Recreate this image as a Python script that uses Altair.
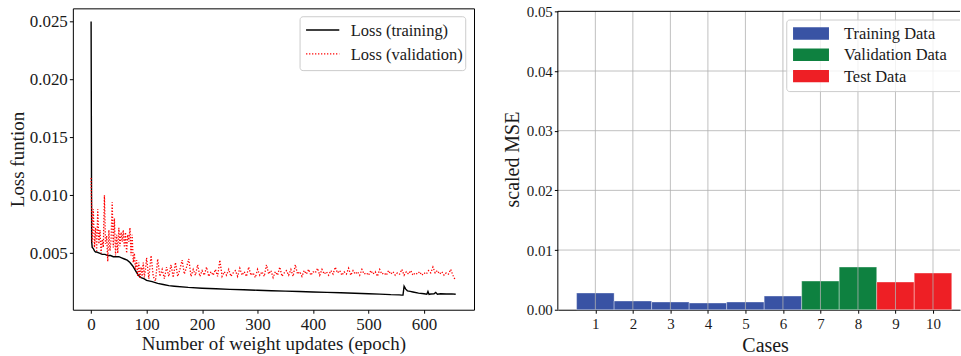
import altair as alt
import pandas as pd

FONT = "Liberation Serif"

# ---------------- left panel data ----------------
train_epochs = [0, 1, 2, 4, 6, 8, 10, 15, 20, 25, 30, 35, 40, 45, 50, 55, 60, 65, 70, 75,
                80, 85, 90, 95, 100, 110, 120, 130, 140, 150, 175, 200, 225, 250, 275, 300,
                325, 350, 375, 400, 425, 450, 475, 500, 520, 540, 555, 560, 562, 564, 567,
                570, 575, 580, 590, 600, 605, 607, 609, 612, 618, 621, 624, 630, 640, 650, 657]
train_loss = [0.0250, 0.0060, 0.0055, 0.0054, 0.0052, 0.0051, 0.0051, 0.0050, 0.0049, 0.0049,
              0.0048, 0.0048, 0.0047, 0.0047, 0.0047, 0.0046, 0.0045, 0.0044, 0.0042, 0.0039,
              0.0035, 0.0031, 0.0029, 0.0028, 0.00265, 0.00255, 0.0024, 0.0023, 0.0022, 0.00215,
              0.00205, 0.00198, 0.00193, 0.00188, 0.00184, 0.0018, 0.00176, 0.00173, 0.00169,
              0.00165, 0.00162, 0.00158, 0.00154, 0.0015, 0.00147, 0.00142, 0.0014, 0.00138,
              0.00139, 0.00215, 0.0019, 0.00175, 0.0017, 0.00165, 0.00155, 0.0015, 0.00146,
              0.0017, 0.00144, 0.00148, 0.0015, 0.00162, 0.00146, 0.0015, 0.00148, 0.00149, 0.00146]

val_epochs = list(range(0, 100, 2)) + list(range(100, 657, 4))
val_loss = [
    0.0115, 0.0060, 0.0088, 0.0055, 0.0072, 0.0052, 0.0088, 0.0058, 0.0070, 0.0050,
    0.0062, 0.0055, 0.0100, 0.0058, 0.0065, 0.0043, 0.0070, 0.0052, 0.0062, 0.0094,
    0.0055, 0.0080, 0.0048, 0.0066, 0.0050, 0.0072, 0.0056, 0.0068, 0.0060, 0.0070,
    0.0055, 0.0068, 0.0050, 0.0066, 0.0060, 0.0072, 0.0048, 0.0066, 0.0042, 0.0050,
    0.0036, 0.0044, 0.0030, 0.0042, 0.0028, 0.0038, 0.0030, 0.0042, 0.0029, 0.0036,
    # 100 .. 656 step 4
    0.0046, 0.0028, 0.0048, 0.0030, 0.0026, 0.0045, 0.0030, 0.0036, 0.0028, 0.0038,
    0.0030, 0.0040, 0.0029, 0.0042, 0.0030, 0.0036, 0.0044, 0.0032, 0.0038, 0.0045,
    0.0030, 0.0036, 0.0031, 0.0040, 0.0030, 0.0035, 0.0031, 0.0038, 0.0030, 0.0034,
    0.0031, 0.0036, 0.0030, 0.0044, 0.0030, 0.0034, 0.0031, 0.0036, 0.0030, 0.0033,
    0.0035, 0.0030, 0.0037, 0.0031, 0.0034, 0.0030, 0.0038, 0.0031, 0.0033, 0.0029,
    0.0036, 0.0031, 0.0034, 0.0030, 0.0040, 0.0032, 0.0035, 0.0029, 0.0034, 0.0031,
    0.0038, 0.0030, 0.0033, 0.0035, 0.0031, 0.0036, 0.0030, 0.0040, 0.0032, 0.0034,
    0.0030, 0.0035, 0.0032, 0.0036, 0.0031, 0.0034, 0.0033, 0.0037, 0.0031, 0.0036,
    0.0032, 0.0034, 0.0031, 0.0035, 0.0032, 0.0038, 0.0033, 0.0035, 0.0031, 0.0034,
    0.0032, 0.0037, 0.0031, 0.0035, 0.0032, 0.0034, 0.0031, 0.0036, 0.0032, 0.0033,
    0.0031, 0.0035, 0.0032, 0.0034, 0.0030, 0.0036, 0.0032, 0.0033, 0.0031, 0.0035,
    0.0032, 0.0034, 0.0031, 0.0033, 0.0032, 0.0036, 0.0031, 0.0034, 0.0032, 0.0035,
    0.0031, 0.0033, 0.0032, 0.0034, 0.0031, 0.0033, 0.0032, 0.0035, 0.0033, 0.0038,
    0.0033, 0.0035, 0.0032, 0.0034, 0.0031, 0.0033, 0.0032, 0.0036, 0.0031, 0.0027,
]
loss_labels = ["Loss (training)", "Loss (validation)"]
left_x_ticks = [0, 100, 200, 300, 400, 500, 600]
left_y_ticks = [0.005, 0.010, 0.015, 0.020, 0.025]

# ---------------- right panel data ----------------
cases = [1, 2, 3, 4, 5, 6, 7, 8, 9, 10]
mse = [0.0028, 0.00146, 0.00129, 0.00112, 0.00129, 0.00229, 0.0048, 0.00715, 0.00464, 0.00614]
group_names = ["Training Data", "Validation Data", "Test Data"]
groups = ["Training Data"] * 6 + ["Validation Data"] * 2 + ["Test Data"] * 2
group_colors = ["#3953a4", "#0e8140", "#ee1f25"]
right_y_ticks = [0.0, 0.01, 0.02, 0.03, 0.04, 0.05]
right_grid_y = [0.01, 0.02, 0.03, 0.04]

df_train = pd.DataFrame({"epoch": train_epochs, "loss": train_loss})
df_val = pd.DataFrame({"epoch": val_epochs, "loss": val_loss})
df_bars = pd.DataFrame({"case": cases, "mse": mse, "group": groups})
df_vgrid = pd.DataFrame({"c": cases})
df_hgrid = pd.DataFrame({"v": right_grid_y})
one = pd.DataFrame({"a": [0]})

TXT = "#1a1a1a"

# ================= left panel =================
W1, H = 402, 302
xs = alt.Scale(domain=[-32.9, 690], nice=False, zero=False)
ys = alt.Scale(domain=[0.00012, 0.02614], nice=False, zero=False)
xax = alt.Axis(values=left_x_ticks, format="d", title="Number of weight updates (epoch)",
               grid=False, domain=False, tickSize=3.5, tickColor="black", labelPadding=3,
               labelFontSize=17, titleFontSize=19, titlePadding=2)
yax = alt.Axis(values=left_y_ticks, format=".3f", title="Loss funtion",
               grid=False, domain=False, tickSize=3.5, tickColor="black", labelPadding=2,
               labelFontSize=17, titleFontSize=19, titlePadding=2)

train_line = alt.Chart(df_train).mark_line(color="black", strokeWidth=1.4, clip=True).encode(
    x=alt.X("epoch:Q", scale=xs, axis=xax),
    y=alt.Y("loss:Q", scale=ys, axis=yax),
)
val_line = alt.Chart(df_val).mark_line(color="red", strokeWidth=1.3, strokeDash=[1.3, 1.7],
                                       clip=True).encode(
    x=alt.X("epoch:Q", scale=xs, axis=xax),
    y=alt.Y("loss:Q", scale=ys, axis=yax),
)

lbox = alt.Chart(one).mark_rect(fill="white", fillOpacity=0.8, stroke="#cccccc",
                                strokeWidth=1, cornerRadius=3).encode(
    x=alt.value(227.7), x2=alt.value(393.7), y=alt.value(8.4), y2=alt.value(62.4))
lsym1 = alt.Chart(one).mark_rule(color="black", strokeWidth=1.4).encode(
    x=alt.value(233.7), x2=alt.value(267), y=alt.value(21.7))
lsym2 = alt.Chart(one).mark_rule(color="red", strokeWidth=1.3, strokeDash=[1.3, 1.7]).encode(
    x=alt.value(233.7), x2=alt.value(267), y=alt.value(45.7))
ltexts = []
for i, lab in enumerate(loss_labels):
    ltexts.append(alt.Chart(pd.DataFrame({"label": [lab]})).mark_text(
        align="left", baseline="middle", fontSize=16.5, font=FONT, color=TXT).encode(
        x=alt.value(278.5), y=alt.value(22.5 + 24 * i), text="label:N"))

left = alt.layer(train_line, val_line, lbox, lsym1, lsym2, *ltexts).properties(
    width=W1, height=H, view=alt.ViewBackground(stroke="black", strokeWidth=1))

# ================= right panel =================
W2 = 403
xr = alt.Scale(domain=[0, 10.72], nice=False, zero=False)
yr = alt.Scale(domain=[0, 0.0505], nice=False, zero=False)
xax_r = alt.Axis(values=cases, format="d", title="Cases", grid=False, domain=True,
                 domainColor="black", domainWidth=1, tickSize=3.5, tickColor="black",
                 labelPadding=3, labelFontSize=15, titleFontSize=20, titlePadding=4, titleX=207.7)
yax_r = alt.Axis(values=right_y_ticks, format=".2f", title="scaled MSE", grid=False,
                 domain=False, tickSize=3.5, tickColor="black", labelPadding=2,
                 labelFontSize=15, titleFontSize=20, titlePadding=4)

bars = alt.Chart(df_bars).transform_calculate(
    x0="datum.case - 0.5", x1="datum.case + 0.5"
).mark_rect(stroke="white", strokeOpacity=0.35, strokeWidth=1).encode(
    x=alt.X("x0:Q", scale=xr, axis=xax_r),
    x2="x1:Q",
    y=alt.Y("mse:Q", scale=yr, axis=yax_r),
    y2=alt.datum(0),
    color=alt.Color("group:N", scale=alt.Scale(domain=group_names, range=group_colors),
                    legend=None),
)
vgrid = alt.Chart(df_vgrid).mark_rule(color="#b0b0b0", strokeWidth=0.8).encode(
    x=alt.X("c:Q", scale=xr, axis=xax_r), y=alt.datum(0), y2=alt.datum(0.05))
hgrid = alt.Chart(df_hgrid).mark_rule(color="#b0b0b0", strokeWidth=0.8).encode(
    y=alt.Y("v:Q", scale=yr, axis=yax_r), x=alt.value(0), x2=alt.value(W2))
spine_left = alt.Chart(one).mark_rule(color="black", strokeWidth=1).encode(
    x=alt.value(0), y=alt.datum(0), y2=alt.datum(0.05))
spine_top = alt.Chart(one).mark_rule(color="black", strokeWidth=1).encode(
    y=alt.datum(0.05), x=alt.value(0), x2=alt.value(W2))

rbox = alt.Chart(one).mark_rect(fill="white", fillOpacity=0.8, stroke="#cccccc",
                                strokeWidth=1, cornerRadius=3, clip=True).encode(
    x=alt.value(229.4), x2=alt.value(460), y=alt.value(11.7), y2=alt.value(83.4))
rlegend = []
for i, (name, col) in enumerate(zip(group_names, group_colors)):
    yc = 25.2 + 21.35 * i
    rlegend.append(alt.Chart(one).mark_rect(color=col).encode(
        x=alt.value(235.7), x2=alt.value(271.7), y=alt.value(yc - 6.2), y2=alt.value(yc + 6.2)))
    rlegend.append(alt.Chart(pd.DataFrame({"label": [name]})).mark_text(
        align="left", baseline="middle", fontSize=16.5, font=FONT, color=TXT).encode(
        x=alt.value(286.7), y=alt.value(yc + 0.5), text="label:N"))

right = alt.layer(bars, vgrid, hgrid, spine_left, spine_top, rbox, *rlegend).properties(
    width=W2, height=H, view=alt.ViewBackground(strokeWidth=0))

chart = alt.hconcat(left, right, spacing=84, bounds="flush").properties(
    padding={"left": 7, "top": 3, "right": 0, "bottom": 0}
).configure_view(strokeWidth=0).configure_axis(
    labelFont=FONT, titleFont=FONT, titleFontWeight="normal",
    labelColor=TXT, titleColor=TXT,
)

chart.save("out.html", embed_options={"renderer": "svg", "actions": False})
